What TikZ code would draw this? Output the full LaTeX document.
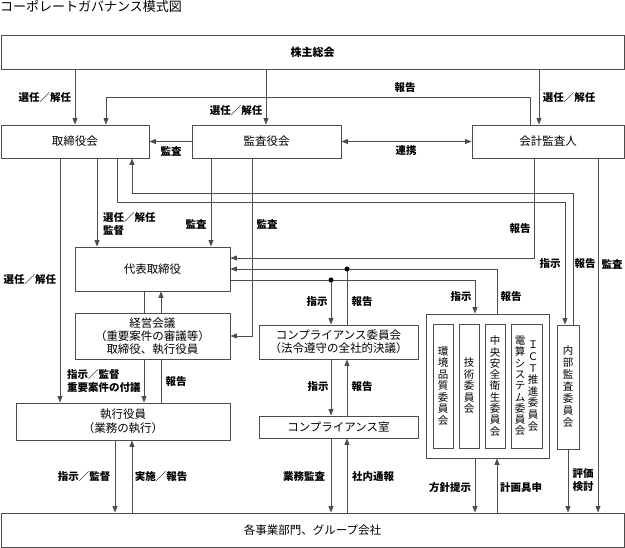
\documentclass[tikz,border=0pt]{standalone}
\usepackage{fontspec}
\newfontfamily\jp{Noto Sans CJK JP}
\usetikzlibrary{arrows.meta}
\tikzset{
  ln/.style={draw=black!70, line width=0.9pt},
  arr/.style={ln, -{Triangle[length=6.5pt,width=5pt]}},
  arrb/.style={ln, {Triangle[length=6.5pt,width=5pt]}-{Triangle[length=6.5pt,width=5pt]}},
  box/.style={draw=black!70, line width=0.9pt, fill=white, inner sep=0pt, align=center,
    font=\jp\fontsize{11.5}{13.5}\selectfont},
  lab/.style={inner sep=0pt, align=left, font=\jp\bfseries\fontsize{10.5}{12.5}\selectfont},
  vt/.style={inner sep=0pt, align=center, font=\jp\fontsize{10.5}{11.5}\selectfont},
  dotc/.style={fill=black, circle, inner sep=0pt, minimum size=5pt}
}
\begin{document}
\begin{tikzpicture}[x=1pt,y=-1pt]
\useasboundingbox (0,0) rectangle (625,548);
\node[anchor=west, inner sep=0pt, font=\jp\fontsize{13}{15}\selectfont] (title) at (0,7) {コーポレートガバナンス模式図};
% boxes
\node[box, minimum width=623pt, minimum height=34pt, font=\jp\bfseries\fontsize{11}{13}\selectfont] (sh) at (312.5,52) {株主総会};
\node[box, minimum width=148pt, minimum height=33pt] (tb) at (75,141.5) {取締役会};
\node[box, minimum width=149pt, minimum height=33pt] (ka) at (266.5,141.5) {監査役会};
\node[box, minimum width=152pt, minimum height=33pt] (kk) at (548,141.5) {会計監査人};
\node[box, minimum width=155pt, minimum height=44pt] (dh) at (152.5,269) {代表取締役};
\node[box, minimum width=155pt, minimum height=46pt, font=\jp\fontsize{11.5}{13}\selectfont] (kei) at (152.5,336) {経営会議\\（重要案件の審議等）\\取締役、執行役員};
\node[box, minimum width=214pt, minimum height=37pt, font=\jp\fontsize{11.5}{14}\selectfont] (sy) at (123,421.5) {執行役員\\（業務の執行）};
\node[box, minimum width=159pt, minimum height=34pt, font=\jp\fontsize{11.5}{13}\selectfont] (cc) at (338.5,342) {コンプライアンス委員会\\（法令遵守の全社的決議）};
\node[box, minimum width=159pt, minimum height=22pt] (cr) at (338.5,427) {コンプライアンス室};
\node[box, minimum width=123pt, minimum height=144pt] (grp) at (487.5,386) {};
\node[box, minimum width=20pt, minimum height=124pt] (c1) at (443,386) {};
\node[box, minimum width=20pt, minimum height=124pt] (c2) at (469,386) {};
\node[box, minimum width=20pt, minimum height=124pt] (c3) at (495,386) {};
\node[box, minimum width=31pt, minimum height=124pt] (c4) at (526.5,386) {};
\node[box, minimum width=22pt, minimum height=124pt] (na) at (568,387) {};
\node[box, minimum width=623pt, minimum height=34pt] (bot) at (312.5,530) {各事業部門、グループ会社};
% vertical texts
\node[vt] (t1) at (c1) {環\\境\\品\\質\\委\\員\\会};
\node[vt] (t2) at (c2) {技\\術\\委\\員\\会};
\node[vt, font=\jp\fontsize{10.5}{11.3}\selectfont] (t3) at (c3) {中\\央\\安\\全\\衛\\生\\委\\員\\会};
\node[vt, font=\jp\fontsize{10.5}{11.3}\selectfont] (t4a) at (520,386) {電\\算\\シ\\ス\\テ\\ム\\委\\員\\会};
\node[vt, font=\jp\fontsize{10.5}{11.6}\selectfont] (t4b) at (533,386) {Ｉ\\Ｃ\\Ｔ\\推\\進\\委\\員\\会};
\node[vt, font=\jp\fontsize{10.5}{12}\selectfont] (t5) at (na) {内\\部\\監\\査\\委\\員\\会};
% junction points
\coordinate (d1) at (347,269);
\coordinate (d2) at (331,280);
% connectors
\draw[arr] (sh.south -| tb.north) -- (tb.north);
\draw[arr] (sh.south -| 266,0) -- (ka.north -| 266,0);
\draw[arr] (sh.south -| 539,0) -- (kk.north -| 539,0);
\draw[arr] (kk.north -| 530,0) -- (530,97) -| (tb.north -| 106,0);
\draw[arr] (ka.west) -- (tb.east);
\draw[arrb] (ka.east) -- (kk.west);
\draw[arr] (tb.south -| 60,0) -- (sy.north -| 60,0);
\draw[arr] (tb.south -| 97,0) -- (dh.north -| 97,0);
\draw[arr] (tb.south -| 117,0) |- (565,202) -- (na.north -| 565,0);
\draw[arr] (na.north -| 573,0) |- (132,193) -- (tb.south -| 132,0);
\draw[arr] (ka.south -| 211,0) -- (dh.north -| 211,0);
\draw[arr] (ka.south -| 252,0) |- (kei.east);
\draw[arr] (kk.south -| 534,0) |- (dh.east |- 0,258);
\draw[arr] (grp.north -| 497,0) |- (dh.east |- 0,269);
\draw[arr] (dh.east |- 0,280) -| (grp.north -| 475,0);
\draw[ln] (cc.north -| d1) -- (d1);
\draw[arr] (d2) -- (cc.north -| d2);
\node[dotc] (dot1) at (d1) {};
\node[dotc] (dot2) at (d2) {};
\draw[arr] (kei.north -| 161,0) -- (dh.south -| 161,0);
\draw[ln] (dh.south -| 144,0) -- (kei.north -| 144,0);
\draw[arr] (kei.south -| 144,0) -- (sy.north -| 144,0);
\draw[ln] (sy.north -| 161,0) -- (kei.south -| 161,0);
\draw[arr] (sy.south -| 115,0) -- (bot.north -| 115,0);
\draw[arr] (bot.north -| 132,0) -- (sy.south -| 132,0);
\draw[arr] (cc.south -| 331,0) -- (cr.north -| 331,0);
\draw[arr] (cr.north -| 347,0) -- (cc.south -| 347,0);
\draw[arr] (cr.south -| 331,0) -- (bot.north -| 331,0);
\draw[arr] (bot.north -| 347,0) -- (cr.south -| 347,0);
\draw[arr] (grp.south -| 475,0) -- (bot.north -| 475,0);
\draw[arr] (bot.north -| 497,0) -- (grp.south -| 497,0);
\draw[arr] (na.south) -- (bot.north -| na.south);
\draw[arr] (kk.south -| 598,0) -- (bot.north -| 598,0);
% labels
\node[lab] (l1) at (45,98) {選任／解任};
\node[lab] (l2) at (236,111) {選任／解任};
\node[lab] (l3) at (569,98) {選任／解任};
\node[lab] (l4) at (405,88) {報告};
\node[lab] (l5) at (171,151) {監査};
\node[lab] (l6) at (406,151) {連携};
\node[lab] (l7) at (30,280) {選任／解任};
\node[lab, anchor=west] (l8) at (103,224) {選任／解任\\監督};
\node[lab] (l9) at (196,224) {監査};
\node[lab] (l10) at (267,224) {監査};
\node[lab] (l11) at (520,229) {報告};
\node[lab] (l12) at (550,264) {指示};
\node[lab] (l13) at (585,264) {報告};
\node[lab] (l14) at (612,264) {監査};
\node[lab] (l15) at (461,297) {指示};
\node[lab] (l16) at (511,297) {報告};
\node[lab] (l17) at (317,302) {指示};
\node[lab] (l18) at (362,302) {報告};
\node[lab, anchor=west] (l19) at (67,381) {指示／監督\\重要案件の付議};
\node[lab] (l20) at (176,382) {報告};
\node[lab] (l21) at (318,387) {指示};
\node[lab] (l22) at (362,387) {報告};
\node[lab] (l23) at (84,477) {指示／監督};
\node[lab] (l24) at (161,477) {実施／報告};
\node[lab] (l25) at (304,477) {業務監査};
\node[lab] (l26) at (373,477) {社内通報};
\node[lab] (l27) at (450,488) {方針提示};
\node[lab] (l28) at (521,488) {計画具申};
\node[lab, align=center] (l29) at (583,480) {評価\\検討};
\end{tikzpicture}
\end{document}
